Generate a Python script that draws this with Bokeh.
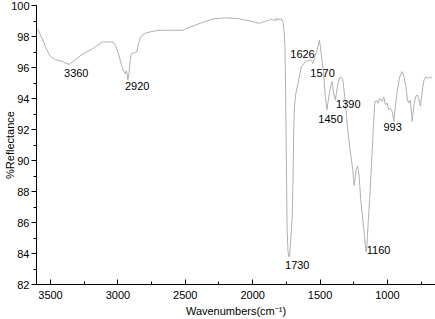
from bokeh.plotting import figure
from bokeh.models import Range1d, SingleIntervalTicker, ColumnDataSource
from bokeh.embed import file_html
from bokeh.resources import INLINE
from bokeh.core.properties import value

# FTIR spectrum
wavenumber = [
    3596, 3574, 3550, 3525, 3500, 3463, 3413, 3380, 3360, 3340, 3314, 3280, 3252, 3190, 3150,
    3116, 3054, 3030, 3017, 3000, 2992, 2975, 2960, 2950, 2943, 2938, 2932, 2926, 2918, 2910,
    2900, 2880, 2860, 2845, 2830, 2800, 2760, 2700, 2600, 2520, 2470, 2435, 2360, 2287, 2200,
    2101, 2050, 2014, 1977, 1952, 1915, 1878, 1860, 1850, 1841, 1830, 1823, 1815, 1804, 1795,
    1786, 1775, 1766, 1760, 1756, 1752, 1748, 1744, 1738, 1733, 1726, 1720, 1712, 1706, 1700,
    1695, 1690, 1680, 1670, 1658, 1639, 1620, 1609, 1590, 1572, 1562, 1554, 1545, 1539, 1522,
    1505, 1498, 1490, 1473, 1461, 1448, 1440, 1431, 1418, 1411, 1405, 1398, 1386, 1376, 1366,
    1349, 1331, 1316, 1305, 1297, 1277, 1257, 1247, 1240, 1233, 1220, 1210, 1198, 1178, 1163,
    1158, 1152, 1141, 1129, 1116, 1104, 1094, 1082, 1069, 1056, 1039, 1027, 1015, 1002, 990,
    978, 965, 952, 941, 926, 908, 891, 876, 863, 851, 841, 829, 816, 804, 792,
    779, 767, 755, 740, 728, 715, 703, 692, 680, 668,
]
reflectance = [
    98.5, 98.1, 97.6, 97.1, 96.7, 96.5, 96.4, 96.25, 96.2, 96.35, 96.5, 96.75, 96.9, 97.2, 97.45,
    97.65, 97.65, 97.6, 97.4, 97.0, 96.8, 96.2, 95.8, 95.65, 95.6, 95.8, 95.6, 95.2, 95.6, 96.4,
    96.9, 96.95, 97.0, 97.6, 98.0, 98.2, 98.3, 98.4, 98.4, 98.4, 98.6, 98.7, 98.95, 99.15, 99.2,
    99.15, 99.05, 99.0, 98.9, 98.85, 98.95, 99.05, 99.15, 99.05, 99.1, 99.0, 99.2, 99.05, 99.15, 99.05,
    99.15, 98.9, 98.3, 97.3, 95.0, 92.0, 88.5, 85.5, 84.2, 83.8, 83.8, 84.5, 85.5, 86.5, 89.0,
    92.0, 93.5, 94.3, 94.7, 95.2, 96.05, 96.25, 96.37, 96.45, 96.5, 96.4, 96.26, 96.5, 96.7, 97.1,
    97.76, 97.4, 96.8, 95.6, 94.13, 93.27, 93.8, 94.34, 94.9, 95.1, 94.7, 94.3, 93.9, 94.5, 95.0,
    95.4, 95.2, 94.1, 93.0, 92.2, 90.7, 89.4, 88.4, 88.8, 89.4, 89.65, 89.0, 87.5, 85.8, 84.5,
    84.1, 84.5, 86.2, 87.9, 90.1, 92.2, 93.7, 93.9, 93.7, 94.0, 93.8, 94.1, 93.6, 93.7, 93.27,
    93.38, 93.16, 92.52, 93.5, 94.55, 95.4, 95.73, 95.4, 94.77, 93.9, 93.7, 93.9, 92.52, 93.5, 94.1,
    94.23, 94.0, 93.5, 94.55, 95.2, 95.4, 95.3, 95.4, 95.3, 95.4,
]

# peak annotations
peak_labels = ["3360", "2920", "1626", "1570", "1390", "1450", "993", "1730", "1160"]
label_wn = [3309, 2857, 1630, 1481, 1290, 1422, 961, 1669, 1065]
label_val = [95.64, 94.81, 96.86, 95.62, 93.66, 92.68, 92.17, 83.28, 84.2]

x_title = "Wavenumbers(cm\u207b\u00b9)"
y_title = "%Reflectance"

x_ticks_interval = 500
y_ticks_interval = 2

FONT = "Liberation Sans"

p = figure(
    width=435, height=319,
    output_backend="svg", toolbar_location=None,
    x_range=Range1d(3604, 643), y_range=Range1d(82, 100),
    min_border_top=5, min_border_right=0, min_border_left=36, min_border_bottom=33,
)
p.outline_line_color = None
p.xgrid.visible = False
p.ygrid.visible = False
p.background_fill_color = "white"
p.border_fill_color = "white"

p.line(wavenumber, reflectance, line_color="#b0b0b0", line_width=1)

src = ColumnDataSource(dict(x=label_wn, y=label_val, t=peak_labels))
p.text(x="x", y="y", text="t", source=src, text_font=value(FONT),
       text_font_size="11px", text_color="black",
       text_align="center", text_baseline="middle")

xa = p.xaxis[0]
xa.ticker = SingleIntervalTicker(interval=x_ticks_interval, num_minor_ticks=2)
xa.axis_label = x_title
xa.major_tick_in = 5
xa.major_tick_out = 0
xa.minor_tick_in = 3
xa.minor_tick_out = 0
xa.major_label_standoff = 6
xa.axis_label_standoff = 3

ya = p.yaxis[0]
ya.ticker = SingleIntervalTicker(interval=y_ticks_interval, num_minor_ticks=2)
ya.axis_label = y_title
ya.major_tick_in = 0
ya.major_tick_out = 5
ya.minor_tick_in = 0
ya.minor_tick_out = 3
ya.major_label_standoff = 2
ya.axis_label_standoff = -8

for ax in (xa, ya):
    ax.axis_line_color = "black"
    ax.axis_line_width = 1
    ax.major_tick_line_color = "black"
    ax.minor_tick_line_color = "black"
    ax.major_label_text_font = FONT
    ax.major_label_text_font_size = "11px"
    ax.major_label_text_color = "black"
    ax.axis_label_text_font = FONT
    ax.axis_label_text_font_size = "11px"
    ax.axis_label_text_font_style = "normal"
    ax.axis_label_text_color = "black"

open("out.html", "w").write(file_html(p, INLINE))
